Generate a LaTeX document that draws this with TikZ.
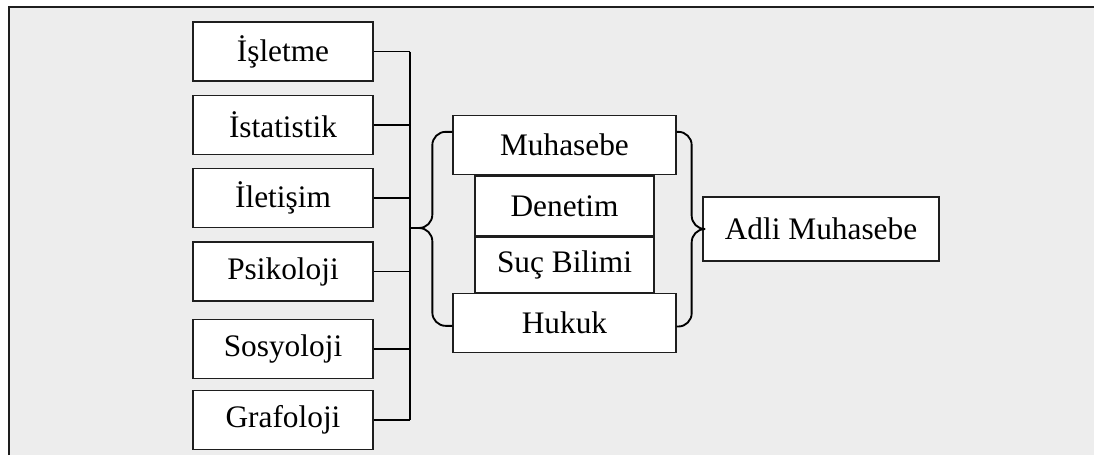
\documentclass[tikz,border=0pt]{standalone}
\usepackage{fontspec}
\setmainfont{Liberation Serif}
\usetikzlibrary{positioning}

\definecolor{panelgray}{HTML}{EDEDED}
\definecolor{linegray}{HTML}{1E1E1E}

\begin{document}
\begin{tikzpicture}[x=0.75pt, y=-0.75pt, node distance=9.75pt, font=\fontsize{23.5}{28}\selectfont]
    \tikzstyle{field} = [rectangle, minimum width=135pt, minimum height=44.25pt, text centered, draw=linegray, line width=1pt, fill=white, inner sep=0pt]
    \tikzstyle{core} = [rectangle, minimum width=167.25pt, minimum height=44.25pt, text centered, draw=linegray, line width=1pt, fill=white, inner sep=0pt]
    \tikzstyle{inner} = [rectangle, minimum width=134.25pt, text centered, draw=linegray, line width=1pt, fill=white, inner sep=0pt]
    \tikzstyle{bus} = [line width=1.4pt, draw=black]
    \tikzstyle{brace} = [line width=1.4pt, draw=black, rounded corners=10pt]

    % page background and frame
    \useasboundingbox (0,0) rectangle (1094,455);
    \fill[panelgray] (9,7) rectangle (1094,455);
    \draw[linegray, line width=1pt] (9,455) -- (9,7) -- (1094,7);

    % feeding disciplines
    \node (isl) [field] at (283,51.5) {İşletme};
    \node (ist) [field, below=of isl] {İstatistik};
    \node (ilt) [field, below=of ist] {İletişim};
    \node (psi) [field, below=of ilt] {Psikoloji};
    \node (sos) [field, below=12.75pt of psi] {Sosyoloji};
    \node (gra) [field, below=8.25pt of sos] {Grafoloji};

    % core stack
    \node (den) [inner, minimum height=45pt] at (564.5,206) {Denetim};
    \node (suc) [inner, minimum height=41.25pt, below=0pt of den] {Suç Bilimi};
    \node (muh) [core, above=0pt of den] {Muhasebe};
    \node (huk) [core, below=0pt of suc] {Hukuk};

    \node (adli) [rectangle, minimum width=177pt, minimum height=48pt, draw=linegray, line width=1pt, fill=white, inner sep=0pt] at (821,229) {Adli Muhasebe};

    \coordinate (bus) at (410,228);

    % bus on the left
    \foreach \n in {isl, ist, ilt, psi, sos, gra}
        \draw [bus] (\n.east) -- (\n.east -| bus);
    \draw [bus] (isl.east -| bus) -- (gra.east -| bus);

    % braces
    \draw [brace] ([yshift=10pt]muh.west) -- ++(-20,0) |- (bus);
    \draw [brace] ([yshift=-2pt]huk.west) -- ++(-20,0) |- (bus);
    \draw [brace] ([yshift=10pt]muh.east) -- ++(15,0) |- (adli.west);
    \draw [brace] ([yshift=-2.5pt]huk.east) -- ++(15,0) |- (adli.west);
\end{tikzpicture}
\end{document}
